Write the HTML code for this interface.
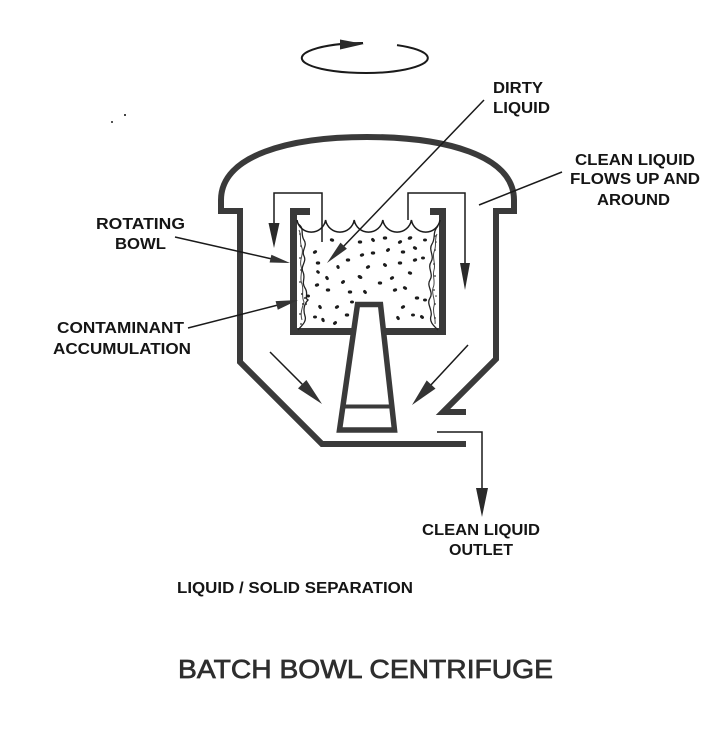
<!DOCTYPE html>
<html>
<head>
<meta charset="utf-8">
<style>
  html,body{margin:0;padding:0;background:#fff;}
  svg{display:block;}
  .lbl{font-family:"Liberation Sans",sans-serif;font-weight:bold;font-size:16px;fill:#151515;}
  .ttl{font-family:"Liberation Sans",sans-serif;font-weight:normal;font-size:26px;fill:#2e2e2e;stroke:#2e2e2e;stroke-width:0.7;}
</style>
</head>
<body>
<svg width="720" height="736" viewBox="0 0 720 736" xmlns="http://www.w3.org/2000/svg">
  <rect width="720" height="736" fill="#fff"/>

  <!-- stray specks -->
  <rect x="111" y="121" width="2" height="2" fill="#555"/>
  <rect x="124" y="114" width="2" height="2" fill="#444"/>

  <!-- rotation ellipse -->
  <path d="M363,43 A63,15 0 1,0 397,45.1" fill="none" stroke="#1a1a1a" stroke-width="2"/>
  <polygon points="340,39.5 340,49.5 364,44" fill="#2a2a2a"/>

  <!-- outer housing -->
  <path d="M466,444 L322,444 L240,362 L240,211 L221,211 L221,200 C221,155 290,137 367,137 C444,137 514,155 514,200 L514,211 L496,211 L496,359 L443,412 L466,412"
        fill="none" stroke="#3a3a3a" stroke-width="6" stroke-linejoin="miter"/>

  <!-- bowl -->
  <path d="M310,211.5 H293.5 V331.5 H442.5 V211.5 H430" fill="none" stroke="#3a3a3a" stroke-width="7" stroke-linejoin="miter"/>

  <!-- contaminant accumulation -->
  <path d="M298,224 C305,228 300,234 304,240 C308,246 301,250 304,256 C307,262 300,266 303,272 C306,278 301,282 305,288 C309,294 304,298 308,300 C304,304 303,310 305,316 C307,322 301,326 298,330"
        fill="none" stroke="#222" stroke-width="1.3"/>
  <path d="M299,230 C302,236 299,242 302,248 C304,254 299,260 301,266 C303,272 299,278 302,284 C304,290 301,296 304,302 C302,308 300,314 302,320"
        fill="none" stroke="#444" stroke-width="1"/>
  <path d="M438,226 C432,232 436,238 432,244 C428,250 435,256 431,262 C427,268 434,274 430,280 C426,286 434,292 430,298 C426,304 433,310 431,316 C429,322 434,326 438,330"
        fill="none" stroke="#222" stroke-width="1.3"/>
  <path d="M437,234 C434,240 437,246 434,252 C432,258 436,264 434,270 C432,276 436,282 433,288 C431,294 436,300 434,306 C432,312 436,318 435,324"
        fill="none" stroke="#444" stroke-width="1"/>
  <g fill="#333">
    <circle cx="300" cy="234" r="0.9"/><circle cx="301" cy="246" r="0.9"/><circle cx="300" cy="258" r="0.9"/>
    <circle cx="301" cy="270" r="0.9"/><circle cx="300" cy="282" r="0.9"/><circle cx="302" cy="294" r="1"/>
    <circle cx="303" cy="304" r="1"/><circle cx="300" cy="314" r="0.9"/><circle cx="301" cy="324" r="0.9"/>
    <circle cx="305" cy="298" r="1"/><circle cx="306" cy="304" r="1"/>
    <circle cx="435" cy="236" r="0.9"/><circle cx="435" cy="250" r="0.9"/><circle cx="434" cy="264" r="0.9"/>
    <circle cx="435" cy="276" r="0.9"/><circle cx="434" cy="290" r="0.9"/><circle cx="435" cy="304" r="0.9"/>
    <circle cx="435" cy="318" r="0.9"/><circle cx="436" cy="242" r="0.8"/><circle cx="436" cy="296" r="0.8"/>
  </g>

  <!-- particles -->
  <g fill="#1c1c1c">
    <ellipse cx="332" cy="240" rx="2.2" ry="1.6" transform="rotate(20 332 240)"/>
    <ellipse cx="315" cy="252" rx="2.2" ry="1.6" transform="rotate(-30 315 252)"/>
    <ellipse cx="318" cy="263" rx="2.2" ry="1.6"/>
    <ellipse cx="318" cy="272" rx="2" ry="1.5" transform="rotate(40 318 272)"/>
    <ellipse cx="317" cy="285" rx="2.2" ry="1.6" transform="rotate(-20 317 285)"/>
    <ellipse cx="327" cy="278" rx="2.2" ry="1.6" transform="rotate(60 327 278)"/>
    <ellipse cx="328" cy="290" rx="2.2" ry="1.6"/>
    <ellipse cx="338" cy="267" rx="2" ry="1.6" transform="rotate(70 338 267)"/>
    <ellipse cx="343" cy="282" rx="2.2" ry="1.6" transform="rotate(-40 343 282)"/>
    <ellipse cx="348" cy="260" rx="2.2" ry="1.6"/>
    <ellipse cx="360" cy="277" rx="2.6" ry="1.8" transform="rotate(30 360 277)"/>
    <ellipse cx="362" cy="255" rx="2.2" ry="1.6" transform="rotate(-20 362 255)"/>
    <ellipse cx="360" cy="242" rx="2.2" ry="1.6"/>
    <ellipse cx="373" cy="240" rx="2.2" ry="1.6" transform="rotate(50 373 240)"/>
    <ellipse cx="385" cy="238" rx="2.2" ry="1.6"/>
    <ellipse cx="400" cy="242" rx="2.2" ry="1.6" transform="rotate(-30 400 242)"/>
    <ellipse cx="410" cy="238" rx="2.4" ry="1.7" transform="rotate(-20 410 238)"/>
    <ellipse cx="425" cy="240" rx="2" ry="1.5"/>
    <ellipse cx="415" cy="248" rx="2.2" ry="1.6" transform="rotate(30 415 248)"/>
    <ellipse cx="403" cy="252" rx="2.2" ry="1.6"/>
    <ellipse cx="388" cy="250" rx="2.2" ry="1.6" transform="rotate(-40 388 250)"/>
    <ellipse cx="373" cy="253" rx="2.2" ry="1.6"/>
    <ellipse cx="368" cy="267" rx="2.2" ry="1.6" transform="rotate(-30 368 267)"/>
    <ellipse cx="385" cy="265" rx="2.2" ry="1.6" transform="rotate(40 385 265)"/>
    <ellipse cx="400" cy="263" rx="2.2" ry="1.6"/>
    <ellipse cx="415" cy="260" rx="2.2" ry="1.6" transform="rotate(-20 415 260)"/>
    <ellipse cx="423" cy="258" rx="2" ry="1.5"/>
    <ellipse cx="410" cy="273" rx="2.2" ry="1.6" transform="rotate(20 410 273)"/>
    <ellipse cx="392" cy="278" rx="2.2" ry="1.6" transform="rotate(-30 392 278)"/>
    <ellipse cx="380" cy="283" rx="2.2" ry="1.6"/>
    <ellipse cx="365" cy="292" rx="2.2" ry="1.6" transform="rotate(50 365 292)"/>
    <ellipse cx="350" cy="292" rx="2.2" ry="1.6"/>
    <ellipse cx="337" cy="307" rx="2.2" ry="1.6" transform="rotate(-30 337 307)"/>
    <ellipse cx="320" cy="307" rx="2.2" ry="1.6" transform="rotate(60 320 307)"/>
    <ellipse cx="315" cy="317" rx="2" ry="1.5"/>
    <ellipse cx="323" cy="320" rx="2.2" ry="1.6" transform="rotate(70 323 320)"/>
    <ellipse cx="335" cy="323" rx="2.2" ry="1.6" transform="rotate(-40 335 323)"/>
    <ellipse cx="347" cy="315" rx="2.2" ry="1.6"/>
    <ellipse cx="405" cy="288" rx="2.2" ry="1.6" transform="rotate(30 405 288)"/>
    <ellipse cx="417" cy="298" rx="2.2" ry="1.6"/>
    <ellipse cx="403" cy="307" rx="2.2" ry="1.6" transform="rotate(-30 403 307)"/>
    <ellipse cx="398" cy="318" rx="2.2" ry="1.6" transform="rotate(60 398 318)"/>
    <ellipse cx="413" cy="315" rx="2" ry="1.5"/>
    <ellipse cx="422" cy="317" rx="2.2" ry="1.6" transform="rotate(40 422 317)"/>
    <ellipse cx="425" cy="300" rx="2" ry="1.5"/>
    <ellipse cx="395" cy="290" rx="2.2" ry="1.6" transform="rotate(-20 395 290)"/>
    <ellipse cx="352" cy="302" rx="2" ry="1.5"/>
    <ellipse cx="308" cy="296" rx="2" ry="1.5"/>
  </g>

  <!-- liquid surface scallops -->
  <path d="M297,220 A14.5,14.5 0 0,0 325.6,220 A14.5,14.5 0 0,0 354.2,220 A14.5,14.5 0 0,0 382.8,220 A14.5,14.5 0 0,0 411.4,220 A14.5,14.5 0 0,0 440,220"
        fill="none" stroke="#1a1a1a" stroke-width="1.5"/>

  <!-- central cone -->
  <polygon points="357.5,304.5 380.5,304.5 394.5,430 339.5,430" fill="#fff" stroke="#3a3a3a" stroke-width="5.5" stroke-linejoin="miter"/>
  <line x1="342" y1="406.5" x2="392" y2="406.5" stroke="#3a3a3a" stroke-width="4"/>

  <!-- flow lines in / out of bowl -->
  <g fill="none" stroke="#1a1a1a" stroke-width="1.5">
    <path d="M322,242 V193 H274 V236"/>
    <path d="M408,220 V193 H465 V272"/>
    <path d="M437,432 H482 V496"/>
  </g>
  <g fill="#2a2a2a">
    <polygon points="268.5,223 279.5,223 274,248"/>
    <polygon points="460,263 470,263 465,290"/>
    <polygon points="476,488 488,488 482,517"/>
  </g>

  <!-- big flow arrows -->
  <g stroke="#1a1a1a" stroke-width="1.5" fill="none">
    <line x1="270" y1="352" x2="304" y2="386"/>
    <line x1="468" y1="345" x2="429" y2="387"/>
  </g>
  <g fill="#333">
    <polygon points="298,388.4 306.4,380 322,404"/>
    <polygon points="435.5,388.6 426.7,380.4 412,405"/>
  </g>

  <!-- leader lines -->
  <g stroke="#1a1a1a" stroke-width="1.5" fill="none">
    <line x1="484" y1="100" x2="342" y2="248"/>
    <line x1="562" y1="172" x2="479" y2="205"/>
    <line x1="175" y1="237" x2="272" y2="259"/>
    <line x1="188" y1="328" x2="278" y2="305"/>
  </g>
  <g fill="#333">
    <polygon points="346.9,248.8 340.5,242.6 327,263"/>
    <polygon points="269.6,262.5 271.4,254.7 290,263"/>
    <polygon points="277.8,309.8 275.6,301.1 298,300"/>
  </g>

  <!-- labels -->
  <text class="lbl" x="493" y="93" textLength="50" lengthAdjust="spacingAndGlyphs">DIRTY</text>
  <text class="lbl" x="493" y="113" textLength="57" lengthAdjust="spacingAndGlyphs">LIQUID</text>

  <text class="lbl" x="575" y="165" textLength="120" lengthAdjust="spacingAndGlyphs">CLEAN LIQUID</text>
  <text class="lbl" x="570" y="184" textLength="130" lengthAdjust="spacingAndGlyphs">FLOWS UP AND</text>
  <text class="lbl" x="597" y="205" textLength="73" lengthAdjust="spacingAndGlyphs">AROUND</text>

  <text class="lbl" x="96" y="229" textLength="89" lengthAdjust="spacingAndGlyphs">ROTATING</text>
  <text class="lbl" x="115" y="249" textLength="51" lengthAdjust="spacingAndGlyphs">BOWL</text>

  <text class="lbl" x="57" y="333" textLength="127" lengthAdjust="spacingAndGlyphs">CONTAMINANT</text>
  <text class="lbl" x="53" y="354" textLength="138" lengthAdjust="spacingAndGlyphs">ACCUMULATION</text>

  <text class="lbl" x="422" y="535" textLength="118" lengthAdjust="spacingAndGlyphs">CLEAN LIQUID</text>
  <text class="lbl" x="449" y="555" textLength="64" lengthAdjust="spacingAndGlyphs">OUTLET</text>

  <text class="lbl" x="177" y="593" textLength="236" lengthAdjust="spacingAndGlyphs">LIQUID / SOLID SEPARATION</text>

  <text class="ttl" x="178" y="678" textLength="375" lengthAdjust="spacingAndGlyphs">BATCH BOWL CENTRIFUGE</text>
</svg>
</body>
</html>
